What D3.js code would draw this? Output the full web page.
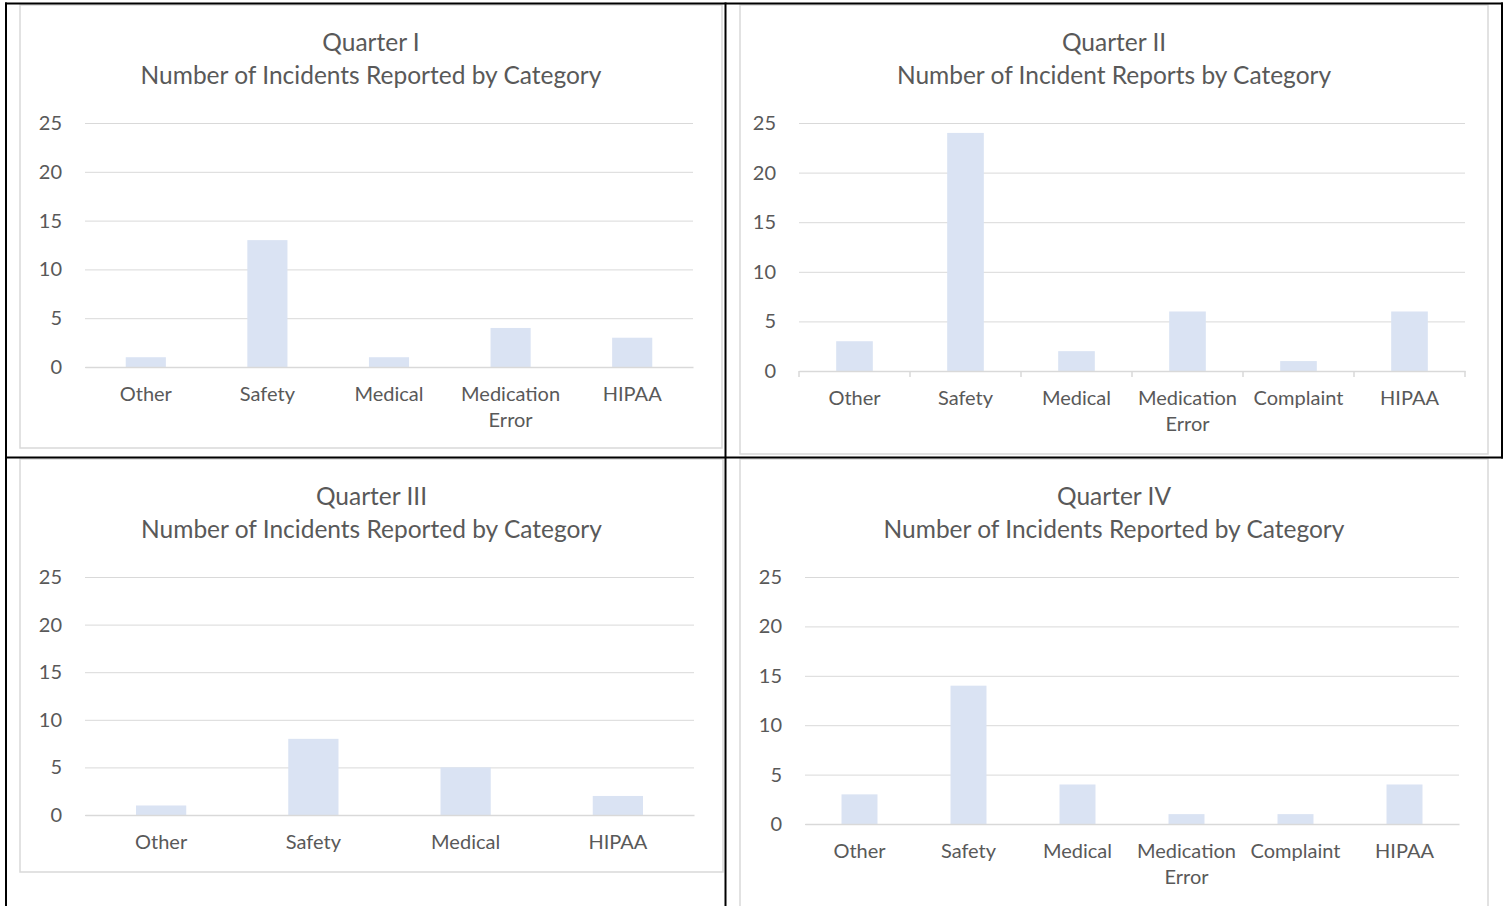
<!DOCTYPE html>
<html>
<head>
<meta charset="utf-8">
<script src="https://cdn.jsdelivr.net/npm/d3@7"></script>
<style>
  html, body { margin: 0; padding: 0; background: #ffffff; }
  svg { display: block; }
  text { font-family: Lato, "Open Sans", "DejaVu Sans", sans-serif; fill: #595959; }
</style>
</head>
<body>
<svg id="chart" width="1505" height="906"></svg>
<script>
// Incident counts per category, one set per quarter
const categoriesQ1 = ["Other", "Safety", "Medical", "Medication Error", "HIPAA"];
const valuesQ1 = [1, 13, 1, 4, 3];

const categoriesQ2 = ["Other", "Safety", "Medical", "Medication Error", "Complaint", "HIPAA"];
const valuesQ2 = [3, 24, 2, 6, 1, 6];

const categoriesQ3 = ["Other", "Safety", "Medical", "HIPAA"];
const valuesQ3 = [1, 8, 5, 2];

const categoriesQ4 = ["Other", "Safety", "Medical", "Medication Error", "Complaint", "HIPAA"];
const valuesQ4 = [3, 14, 4, 1, 1, 4];

const yTicks = [0, 5, 10, 15, 20, 25];
const yMax = 25;

const quarterTitles = ["Quarter I", "Quarter II", "Quarter III", "Quarter IV"];
const subTitles = [
  "Number of Incidents Reported by Category",
  "Number of Incident Reports by Category",
  "Number of Incidents Reported by Category",
  "Number of Incidents Reported by Category"
];

const series = [
  { cats: categoriesQ1, vals: valuesQ1 },
  { cats: categoriesQ2, vals: valuesQ2 },
  { cats: categoriesQ3, vals: valuesQ3 },
  { cats: categoriesQ4, vals: valuesQ4 }
];

// Page layout: table cells, chart frames and plot areas
const layout = [
  { frame: [20, 5, 722, 448],   plot: [85, 693, 367, 123],  tickMarks: false },
  { frame: [740, 5, 1488, 454], plot: [799, 1465, 371, 123], tickMarks: true },
  { frame: [20, 459, 723, 872], plot: [85, 694, 815, 577],  tickMarks: false },
  { frame: [740, 459, 1488, 930], plot: [805, 1459, 824, 577], tickMarks: false }
];

const BAR = "#dae3f3";
const GRID = "#d9d9d9";
const FRAME = "#d9d9d9";

const svg = d3.select("#chart");

// Chart frames
layout.forEach(L => {
  const [x0, y0, x1, y1] = L.frame;
  svg.append("rect")
    .attr("x", x0).attr("y", y0)
    .attr("width", x1 - x0).attr("height", y1 - y0)
    .attr("fill", "#ffffff")
    .attr("stroke", FRAME).attr("stroke-width", 1.5);
});

function wrapLabels(sel, maxWidth, lineHeight) {
  sel.each(function () {
    const text = d3.select(this);
    const words = text.text().split(/\s+/);
    const y = text.attr("y");
    text.text(null);
    let line = [];
    let lineNo = 0;
    let tspan = text.append("tspan").attr("x", 0).attr("y", y);
    words.forEach(w => {
      line.push(w);
      tspan.text(line.join(" "));
      if (line.length > 1 && tspan.node().getComputedTextLength() > maxWidth) {
        line.pop();
        tspan.text(line.join(" "));
        line = [w];
        lineNo++;
        tspan = text.append("tspan").attr("x", 0)
          .attr("y", +y + lineNo * lineHeight).text(w);
      }
    });
  });
}

series.forEach((s, i) => {
  const L = layout[i];
  const [px0, px1, py0, py1] = L.plot;
  const cx = (L.frame[0] + L.frame[2]) / 2;
  const g = svg.append("g");

  // Titles
  g.append("text")
    .attr("x", cx).attr("y", L.frame[1] + 36.5)
    .attr("text-anchor", "middle").attr("dominant-baseline", "central")
    .style("font-size", "24.5px")
    .text(quarterTitles[i]);
  g.append("text")
    .attr("x", cx).attr("y", L.frame[1] + 69.5)
    .attr("text-anchor", "middle").attr("dominant-baseline", "central")
    .style("font-size", "24.5px")
    .text(subTitles[i]);

  const y = d3.scaleLinear().domain([0, yMax]).range([py0, py1]);
  const x = d3.scaleBand().domain(s.cats).range([px0, px1])
    .paddingInner(0.67).paddingOuter(0.335);

  // Value axis with gridlines
  const yAxis = g.append("g")
    .attr("transform", `translate(${px0},0)`)
    .call(d3.axisLeft(y).tickValues(yTicks).tickSize(-(px1 - px0)).tickPadding(23));
  yAxis.select(".domain").remove();
  yAxis.selectAll(".tick line").attr("stroke", GRID).attr("stroke-width", 1);
  yAxis.selectAll(".tick text")
    .style("font-size", "20px").attr("fill", "#595959")
    .attr("font-family", null);

  // Bars
  g.append("g").selectAll("rect")
    .data(s.vals)
    .join("rect")
    .attr("x", (d, k) => x(s.cats[k]))
    .attr("y", d => y(d))
    .attr("width", x.bandwidth())
    .attr("height", d => y(0) - y(d))
    .attr("fill", BAR);

  // Category axis
  const xAxis = g.append("g")
    .attr("transform", `translate(0,${py0})`)
    .call(d3.axisBottom(x).tickSize(0).tickSizeOuter(0).tickPadding(0));
  xAxis.select(".domain").attr("stroke", GRID).attr("stroke-width", 1.5);
  xAxis.selectAll(".tick text")
    .style("font-size", "20px").attr("fill", "#595959")
    .attr("font-family", null)
    .attr("dy", null)
    .attr("y", 34)
    .call(wrapLabels, x.step() - 4, 26);

  if (L.tickMarks) {
    const bounds = s.cats.map(c => x(c) - (x.step() - x.bandwidth()) / 2)
      .concat([px1]);
    xAxis.selectAll("line.cat-tick")
      .data(bounds)
      .join("line")
      .attr("class", "cat-tick")
      .attr("x1", d => d).attr("x2", d => d)
      .attr("y1", 0).attr("y2", 6)
      .attr("stroke", GRID).attr("stroke-width", 1.5);
  }
});

// Table borders around the four cells
const borders = [
  [5, 3.5, 1503, 3.5],
  [6, 2.5, 6, 906],
  [725.5, 2.5, 725.5, 906],
  [1502, 2.5, 1502, 458.5],
  [5, 457.5, 1503, 457.5]
];
svg.append("g").selectAll("line")
  .data(borders)
  .join("line")
  .attr("x1", d => d[0]).attr("y1", d => d[1])
  .attr("x2", d => d[2]).attr("y2", d => d[3])
  .attr("stroke", "#000000").attr("stroke-width", 2);
</script>
</body>
</html>
